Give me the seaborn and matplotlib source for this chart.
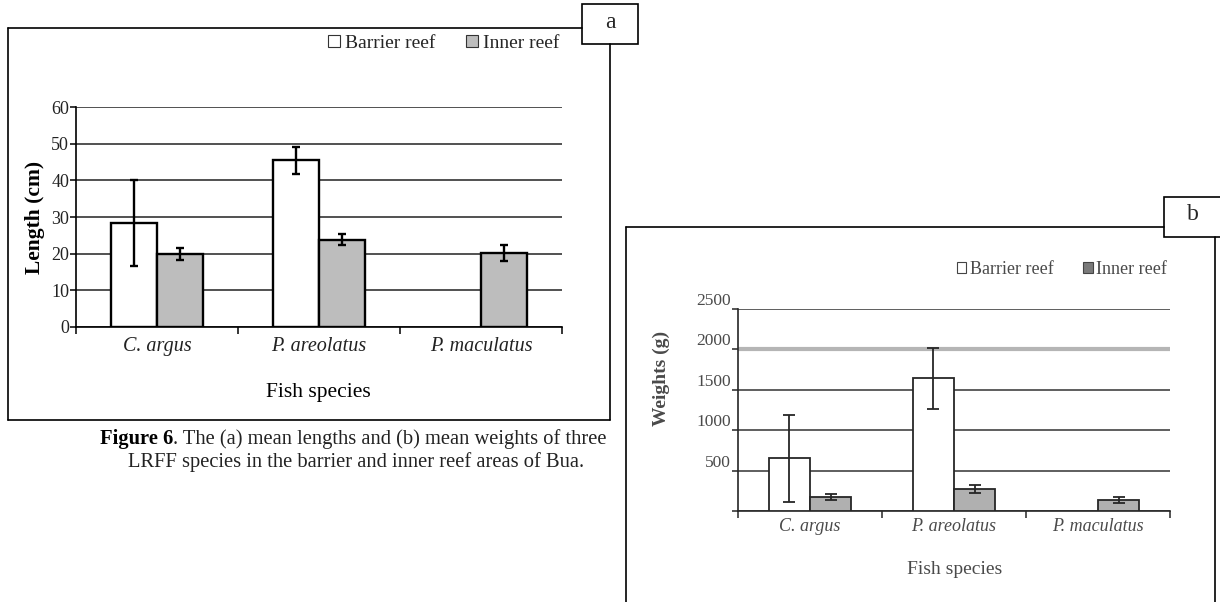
import numpy as np
import pandas as pd
import matplotlib
matplotlib.use("Agg")
import matplotlib.pyplot as plt
import matplotlib.transforms as mtransforms
from matplotlib.patches import Rectangle
import seaborn as sns

# ---------------- data ----------------
species = ["C. argus", "P. areolatus", "P. maculatus"]
reefs = ["Barrier reef", "Inner reef"]

length_barrier = [28.3, 45.5, np.nan]
length_barrier_err = [11.8, 3.7, np.nan]
length_inner = [19.9, 23.8, 20.2]
length_inner_err = [1.6, 1.5, 2.1]

weight_barrier = [650, 1640, np.nan]
weight_barrier_err = [540, 376, np.nan]
weight_inner = [175, 270, 140]
weight_inner_err = [40, 52, 37]

length_ticks = [0, 10, 20, 30, 40, 50, 60]
weight_ticks = [0, 500, 1000, 1500, 2000, 2500]
weight_ticklabels = ["", "500", "1000", "1500", "2000", "2500"]

caption_bold = "Figure 6"
caption_rest = ". The (a) mean lengths and (b) mean weights of three"
caption_line2 = "LRFF species in the barrier and inner reef areas of Bua."

sns.set_theme(style="white")
plt.rcParams["font.family"] = ["Liberation Serif", "DejaVu Serif"]

W, H = 1220, 602
fig = plt.figure(figsize=(W / 100, H / 100), dpi=100)
fig.patch.set_facecolor("white")

# background axes in pixel coordinates
bg = fig.add_axes([0, 0, 1, 1])
bg.set_xlim(0, W)
bg.set_ylim(H, 0)
bg.axis("off")


def pax(x0, y0, x1, y1):
    return [x0 / W, 1 - y1 / H, (x1 - x0) / W, (y1 - y0) / H]


def make_df(barrier, inner):
    return pd.DataFrame({
        "species": species * 2,
        "reef": [reefs[0]] * 3 + [reefs[1]] * 3,
        "value": list(barrier) + list(inner),
    })


def draw_panel(ax, barrier, berr, inner, ierr, inner_color, edge, lw,
               capsize, ticks, tick_fs, label_fs, tcolor, xpad):
    df = make_df(barrier, inner)
    width = 0.57
    sns.barplot(data=df, x="species", y="value", hue="reef",
                order=species, hue_order=reefs,
                palette={reefs[0]: "white", reefs[1]: inner_color},
                width=width, edgecolor=edge, linewidth=lw,
                errorbar=None, ax=ax, zorder=3, saturation=1)
    off = width / 4
    xs = np.arange(len(species))
    ax.errorbar(xs - off, barrier, yerr=berr, fmt="none", ecolor=edge,
                elinewidth=lw, capsize=capsize, capthick=lw, zorder=4)
    ax.errorbar(xs + off, inner, yerr=ierr, fmt="none", ecolor=edge,
                elinewidth=lw, capsize=capsize, capthick=lw, zorder=4)
    ax.set_xlim(-0.5, len(species) - 0.5)
    ax.set_ylim(ticks[0], ticks[-1])
    ax.set_yticks(ticks)
    ax.set_facecolor("white")
    for s in ["top", "right"]:
        ax.spines[s].set_visible(False)
    for s in ["left", "bottom"]:
        ax.spines[s].set_color(edge)
        ax.spines[s].set_linewidth(1.2)
    ax.set_axisbelow(True)
    ax.yaxis.grid(True, color="#222222", linewidth=1.1, zorder=0)
    ax.set_xticks(xs)
    ax.set_xticks(np.arange(len(species) + 1) - 0.5, minor=True)
    ax.tick_params(axis="x", which="major", length=0, pad=xpad,
                   labelsize=label_fs, labelcolor=tcolor)
    ax.tick_params(axis="x", which="minor", length=5, width=1.1,
                   color=edge, direction="out", bottom=True)
    ax.tick_params(axis="y", length=4, width=1.1, color=edge,
                   direction="out", left=True, labelsize=tick_fs,
                   labelcolor=tcolor, pad=1)
    for t in ax.get_xticklabels():
        t.set_fontstyle("italic")
    ax.set_xlabel("")
    ax.set_ylabel("")


# ---------------- panel a ----------------
axa = fig.add_axes(pax(76, 107, 562, 327))
draw_panel(axa, length_barrier, length_barrier_err, length_inner,
           length_inner_err, "#bdbdbd", "black", 1.7, 3, length_ticks,
           13, 14.5, "#222222", 7)
sns.move_legend(axa, "center right", bbox_to_anchor=(1.01, 1.29), ncol=2,
                frameon=False, title=None, fontsize=14, handlelength=0.6,
                handleheight=0.6, handletextpad=0.25, columnspacing=1.6,
                borderaxespad=0)
for p in axa.get_legend().get_patches():
    p.set_linewidth(0.8)
    p.set_edgecolor("#333333")

bg.text(35, 217, "Length (cm)", rotation=90, ha="center", va="center",
        fontsize=15.5, fontweight="bold", color="black")
bg.text(318, 393, "Fish species", ha="center", va="center", fontsize=15.5,
        color="black")

# frame a
bg.plot([8, 582], [28, 28], color="black", lw=1.2)
bg.plot([8, 8], [28, 420], color="black", lw=1.2)
bg.plot([8, 610], [420, 420], color="black", lw=1.2)
bg.plot([610, 610], [44, 420], color="black", lw=1.2)
bg.add_patch(Rectangle((582, 4), 56, 40, facecolor="white",
                       edgecolor="black", lw=1.2))
bg.text(610, 22, "a", ha="center", va="center", fontsize=17)

# ---------------- panel b ----------------
gray_t = "#4a4a4a"
axb = fig.add_axes(pax(738, 309, 1170, 511))
draw_panel(axb, weight_barrier, weight_barrier_err, weight_inner,
           weight_inner_err, "#b0b0b0", "#262626", 1.3, 4, weight_ticks,
           12.5, 13, gray_t, 5)
axb.set_yticklabels(weight_ticklabels)
gl = axb.yaxis.get_gridlines()
gl[4].set_color("#b5b5b5")
gl[4].set_linewidth(3)
for g in gl:
    if g is not gl[4]:
        g.set_color("#333333")
shift = mtransforms.ScaledTranslation(0, 0.10, fig.dpi_scale_trans)
for t in axb.get_yticklabels():
    t.set_transform(t.get_transform() + shift)
sns.move_legend(axb, "center right", bbox_to_anchor=(1.01, 1.195), ncol=2,
                frameon=False, title=None, fontsize=13, handlelength=0.55,
                handleheight=0.55, handletextpad=0.2, columnspacing=1.6,
                borderaxespad=0, labelcolor=gray_t)
lp = axb.get_legend().get_patches()
for p in lp:
    p.set_linewidth(0.8)
    p.set_edgecolor("#444444")
lp[1].set_facecolor("#7a7a7a")

bg.text(661, 378, "Weights (g)", rotation=90, ha="center", va="center",
        fontsize=14, fontweight="bold", color=gray_t)
bg.text(955, 570, "Fish species", ha="center", va="center", fontsize=14,
        color=gray_t)

# frame b
bg.plot([626, 1164], [227, 227], color="black", lw=1.2)
bg.plot([626, 626], [227, 602], color="black", lw=1.2)
bg.plot([1215, 1215], [237, 602], color="black", lw=1.2)
bg.add_patch(Rectangle((1164, 197), 62, 40, facecolor="white",
                       edgecolor="black", lw=1.2, clip_on=False))
bg.text(1193, 215, "b", ha="center", va="center", fontsize=17)

# ---------------- caption ----------------
t1 = bg.text(100, 444, caption_bold, ha="left", va="baseline",
             fontsize=14.8, fontweight="bold", color="black")
bg.annotate(caption_rest, xy=(1, 0), xycoords=t1, ha="left", va="bottom",
            fontsize=14.8, color="#222222")
bg.text(128, 467, caption_line2, ha="left", va="baseline", fontsize=14.8,
        color="#222222")

fig.savefig("out.png", dpi=100, facecolor="white")
